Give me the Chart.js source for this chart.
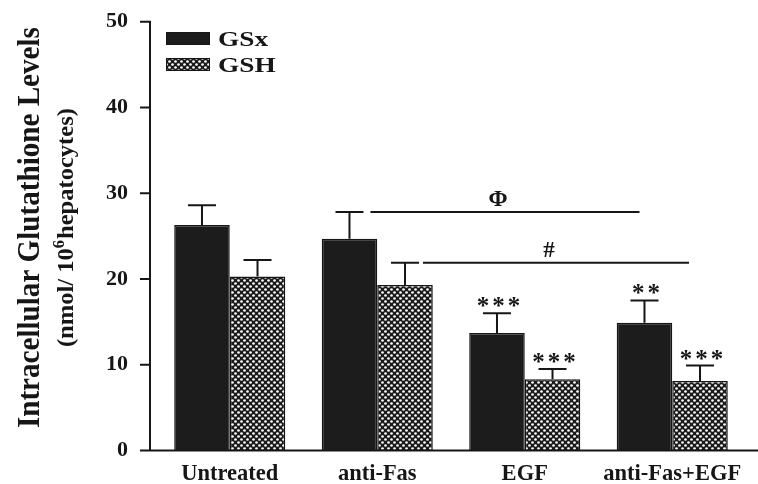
<!DOCTYPE html>
<html>
<head>
<meta charset="utf-8">
<script src="https://cdn.jsdelivr.net/npm/chart.js@4.4.1/dist/chart.umd.min.js"></script>
<style>
  html, body { margin: 0; padding: 0; background: #ffffff; }
  #wrap { width: 758px; height: 484px; }
</style>
</head>
<body>
<div id="wrap"><canvas id="chart" width="758" height="484"></canvas></div>
<script>
// Intracellular glutathione (nmol / 10^6 hepatocytes), mean + SEM
const categories = ['Untreated', 'anti-Fas', 'EGF', 'anti-Fas+EGF'];
const gsxValues  = [26.3, 24.7, 13.7, 14.9];
const gsxErrors  = [2.3, 3.1, 2.3, 2.6];
const gshValues  = [20.3, 19.3, 8.3, 8.1];
const gshErrors  = [1.9, 2.6, 1.2, 1.8];
const gsxMarks   = ['', '', '***', '**'];
const gshMarks   = ['', '', '***', '***'];
const yTicks     = [0, 10, 20, 30, 40, 50];
const seriesNames = ['GSx', 'GSH'];
const titleMain  = 'Intracellular Glutathione Levels';
const titleUnitA = '(nmol/ 10';
const titleUnitSup = '6';
const titleUnitB = 'hepatocytes)';

const SERIF = '"Liberation Serif", "Times New Roman", serif';
const INK = '#161616';

// cross-hatched fill: dark lattice with light dots
function makeHatch() {
  const c = document.createElement('canvas');
  c.width = 6; c.height = 6;
  const g = c.getContext('2d');
  g.fillStyle = '#1a1a1a';
  g.fillRect(0, 0, 6, 6);
  g.fillStyle = '#ffffff';
  [[1.5, 1.5], [4.5, 4.5]].forEach(([x, y]) => {
    g.beginPath(); g.arc(x, y, 1.35, 0, Math.PI * 2); g.fill();
  });
  return g.createPattern(c, 'repeat');
}
const hatch = makeHatch();

const annotate = {
  id: 'annotate',
  afterDatasetsDraw(chart) {
    const ctx = chart.ctx;
    const ys = chart.scales.y;
    const area = chart.chartArea;
    const errs = [gsxErrors, gshErrors];
    const vals = [gsxValues, gshValues];
    const marks = [gsxMarks, gshMarks];
    ctx.save();
    ctx.strokeStyle = INK;
    ctx.fillStyle = INK;
    ctx.lineCap = 'butt';

    // error bars (upper only) and significance stars
    for (let d = 0; d < 2; d++) {
      const meta = chart.getDatasetMeta(d);
      meta.data.forEach((bar, j) => {
        const top = ys.getPixelForValue(vals[d][j] + errs[d][j]);
        ctx.lineWidth = 2;
        ctx.beginPath();
        ctx.moveTo(bar.x, bar.y);
        ctx.lineTo(bar.x, top);
        ctx.moveTo(bar.x - 14, top);
        ctx.lineTo(bar.x + 14, top);
        ctx.stroke();
        if (marks[d][j]) {
          ctx.font = 'bold 25px ' + SERIF;
          ctx.letterSpacing = '3px';
          ctx.textAlign = 'center';
          ctx.textBaseline = 'alphabetic';
          ctx.fillText(marks[d][j], bar.x + 3, top + 1);
          ctx.letterSpacing = '0px';
        }
      });
    }

    // comparison lines: anti-Fas vs anti-Fas+EGF
    const m0 = chart.getDatasetMeta(0).data, m1 = chart.getDatasetMeta(1).data;
    const brackets = [
      { y: gsxValues[1] + gsxErrors[1], x0: m0[1].x + 21, x1: m0[3].x - 5, sym: '\u03A6' },
      { y: gshValues[1] + gshErrors[1], x0: m1[1].x + 18, x1: m1[3].x - 11, sym: '#' }
    ];
    brackets.forEach(b => {
      const py = ys.getPixelForValue(b.y);
      ctx.lineWidth = 2;
      ctx.beginPath();
      ctx.moveTo(b.x0, py);
      ctx.lineTo(b.x1, py);
      ctx.stroke();
      ctx.font = 'bold 23px ' + SERIF;
      ctx.textAlign = 'center';
      ctx.textBaseline = 'alphabetic';
      ctx.fillText(b.sym, (b.x0 + b.x1) / 2 - 7, py - 6);
    });

    // axis lines with outward tick marks
    const axisX = area.left - 6;
    ctx.lineWidth = 2;
    ctx.beginPath();
    ctx.moveTo(axisX, ys.getPixelForValue(yTicks[yTicks.length - 1]) - 1);
    ctx.lineTo(axisX, area.bottom + 1);
    ctx.moveTo(axisX - 1, area.bottom);
    ctx.lineTo(chart.width, area.bottom);
    yTicks.forEach(t => {
      const py = ys.getPixelForValue(t);
      ctx.moveTo(axisX - 10, py);
      ctx.lineTo(axisX, py);
    });
    ctx.stroke();

    // legend
    const sw = [chart.data.datasets[0].backgroundColor, chart.data.datasets[1].backgroundColor];
    const rows = [32, 58];
    seriesNames.forEach((name, i) => {
      ctx.fillStyle = sw[i];
      ctx.fillRect(area.left + 10, rows[i], 44, 13);
      ctx.lineWidth = 1;
      ctx.strokeStyle = INK;
      ctx.strokeRect(area.left + 10.5, rows[i] + 0.5, 43, 12);
      ctx.save();
      ctx.fillStyle = INK;
      ctx.font = 'bold 21px ' + SERIF;
      ctx.textAlign = 'left';
      ctx.textBaseline = 'alphabetic';
      ctx.translate(area.left + 62, rows[i] + 14);
      ctx.scale(1.3, 1);
      ctx.fillText(name, 0, 0);
      ctx.restore();
    });

    // rotated axis title with its unit line
    const cy = (ys.getPixelForValue(0) + ys.getPixelForValue(50)) / 2 - 8.5;
    ctx.save();
    ctx.fillStyle = INK;
    ctx.font = 'bold 32px ' + SERIF;
    const w = ctx.measureText(titleMain).width;
    ctx.translate(39, cy);
    ctx.rotate(-Math.PI / 2);
    ctx.scale(401 / w, 1);
    ctx.textAlign = 'center';
    ctx.fillText(titleMain, 0, 0);
    ctx.restore();

    ctx.save();
    ctx.fillStyle = INK;
    ctx.font = 'bold 24px ' + SERIF;
    const wa = ctx.measureText(titleUnitA).width;
    const wb = ctx.measureText(titleUnitB).width;
    ctx.font = 'bold 16px ' + SERIF;
    const ws = ctx.measureText(titleUnitSup).width + 1;
    const total = wa + ws + wb;
    ctx.translate(73, cy);
    ctx.rotate(-Math.PI / 2);
    ctx.scale(239 / total, 1);
    ctx.textAlign = 'left';
    let px = -total / 2;
    ctx.font = 'bold 24px ' + SERIF;
    ctx.fillText(titleUnitA, px, 0); px += wa;
    ctx.font = 'bold 16px ' + SERIF;
    ctx.fillText(titleUnitSup, px, -9); px += ws;
    ctx.font = 'bold 24px ' + SERIF;
    ctx.fillText(titleUnitB, px, 0);
    ctx.restore();

    ctx.restore();
  }
};

new Chart(document.getElementById('chart'), {
  type: 'bar',
  data: {
    labels: categories,
    datasets: [
      { label: seriesNames[0], data: gsxValues, backgroundColor: '#1c1c1c', borderColor: INK, borderWidth: 1.5 },
      { label: seriesNames[1], data: gshValues, backgroundColor: hatch, borderColor: INK, borderWidth: 1.5 }
    ]
  },
  options: {
    responsive: false,
    animation: false,
    devicePixelRatio: 1,
    layout: { padding: { top: 21.7, right: 12, left: 0, bottom: 0 } },
    datasets: { bar: { categoryPercentage: 0.753, barPercentage: 1.0 } },
    plugins: { legend: { display: false }, tooltip: { enabled: false } },
    scales: {
      x: {
        grid: { display: false },
        border: { display: false },
        ticks: { font: { family: SERIF, size: 22.5, weight: 'bold' }, color: INK, padding: 2 },
        afterFit(s) { s.height = 33.5; }
      },
      y: {
        min: 0, max: 50,
        grid: { display: false },
        border: { display: false },
        afterBuildTicks(s) { s.ticks = yTicks.map(v => ({ value: v })); },
        // tight line height keeps the top label from pushing the plot area down
        ticks: { font: { family: SERIF, size: 22, weight: 'bold', lineHeight: 0.15 }, color: INK, padding: 20 },
        afterFit(s) { s.width = 156; }
      }
    }
  },
  plugins: [annotate]
});
</script>
</body>
</html>
